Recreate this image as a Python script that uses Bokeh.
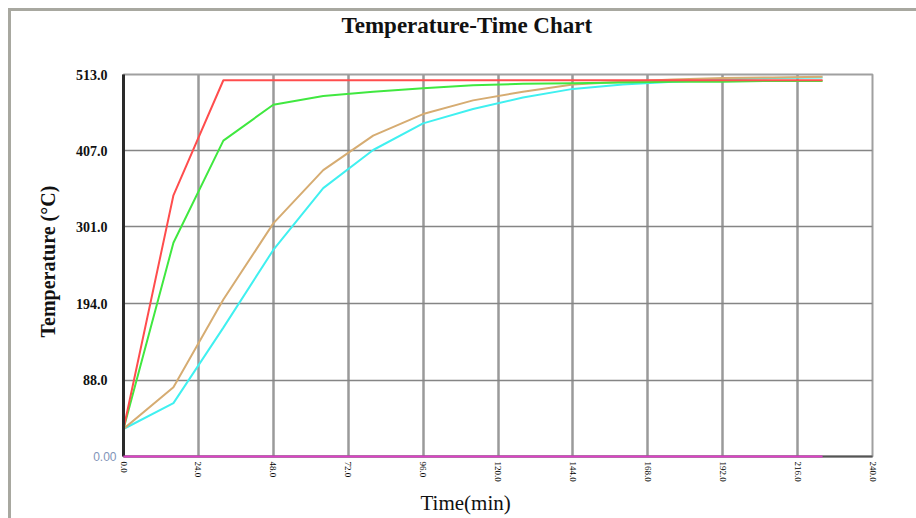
from bokeh.plotting import figure
from bokeh.models import Range1d, FixedTicker, PrintfTickFormatter, LinearAxis, Title
from bokeh.embed import file_html
from bokeh.resources import INLINE

# ---- data ----
time_min = [0, 16, 32, 48, 64, 80, 96, 112, 128, 144, 160, 176, 192, 208, 224]
red_temp = [20, 345, 505, 505, 505, 505, 505, 505, 505, 505, 505, 505, 505, 505, 505]
green_temp = [20, 279, 421, 471, 483, 489, 494, 498, 500, 501, 502, 503, 503, 504, 504]
tan_temp = [20, 78, 200, 306, 380, 428, 458, 477, 489, 499, 503, 506, 508, 509, 510]
cyan_temp = [20, 56, 161, 269, 355, 408, 445, 465, 481, 493, 499, 503, 506, 508, 509]

x_ticks = [0, 24, 48, 72, 96, 120, 144, 168, 192, 216, 240]
y_ticks = [88.0, 194.0, 301.0, 407.0, 513.0]
y_bottom = -18.25          # bottom of the value axis, labelled "0.00"
baseline_temp = [y_bottom] * len(time_min)

serif = "Liberation Serif"
frame_gray = "#a8a8a0"

p = figure(width=916, height=518, output_backend="svg", toolbar_location=None,
           x_range=Range1d(0, 240), y_range=Range1d(y_bottom, 513),
           min_border_left=123, min_border_right=44, min_border_top=74,
           min_border_bottom=61)
p.styles = {
    "background": (f"linear-gradient({frame_gray},{frame_gray}) 8px 8px / 3px 100% no-repeat, "
                   f"linear-gradient({frame_gray},{frame_gray}) 8px 8px / 100% 3px no-repeat, white"),
}

p.background_fill_color = "white"
p.border_fill_color = None
p.outline_line_color = "#a0a0a0"
p.outline_line_width = 2

# real title (outermost) and an invisible spacer between it and the plot area
p.title.text = "Temperature-Time Chart"
p.title.align = "left"
p.title.offset = 218
p.title.standoff = 0
p.title.text_font = serif
p.title.text_font_style = "bold"
p.title.text_font_size = "23px"
p.title.text_color = "#111111"
p.add_layout(Title(text=" ", text_font_size="1px", standoff=34), "above")

# axes
p.xaxis.ticker = FixedTicker(ticks=x_ticks)
p.xaxis.formatter = PrintfTickFormatter(format="%.1f")
p.xaxis.major_label_orientation = "vertical"
p.xaxis.major_label_text_font = serif
p.xaxis.major_label_text_font_size = "9px"
p.xaxis.major_label_text_color = "#000000"
p.xaxis.major_label_standoff = 5
p.xaxis.major_tick_out = 0
p.xaxis.major_tick_in = 0
p.xaxis.major_tick_line_color = None
p.xaxis.minor_tick_line_color = None
p.xaxis.axis_line_color = "#555555"
p.xaxis.axis_line_width = 2

p.yaxis.ticker = FixedTicker(ticks=y_ticks)
p.yaxis.formatter = PrintfTickFormatter(format="%.1f")
p.yaxis.major_label_text_font = serif
p.yaxis.major_label_text_font_style = "bold"
p.yaxis.major_label_text_font_size = "14px"
p.yaxis.major_label_text_color = "#111111"
p.yaxis.major_label_standoff = 10
p.yaxis.major_tick_line_color = None
p.yaxis.minor_tick_line_color = None
p.yaxis.axis_line_color = "#2a2a2a"
p.yaxis.axis_line_width = 3

# separate light label for the bottom of the value axis
zero_axis = LinearAxis(ticker=FixedTicker(ticks=[y_bottom]),
                       major_label_overrides={y_bottom: "0.00"},
                       axis_line_color=None, major_tick_line_color=None,
                       minor_tick_line_color=None,
                       major_label_standoff=-50,
                       major_label_text_font="Liberation Sans",
                       major_label_text_font_size="12px",
                       major_label_text_color="#7f94b8")
p.add_layout(zero_axis, "left")

p.add_layout(Title(text="Temperature (°C)", align="left", offset=119, standoff=28,
                   text_font=serif, text_font_style="bold", text_font_size="20px",
                   text_color="#111111"), "left")
p.add_layout(Title(text="Time(min)", align="left", offset=297, standoff=8,
                   text_font=serif, text_font_style="normal", text_font_size="21px",
                   text_color="#111111"), "below")

p.xgrid.grid_line_color = "#9a9a9a"
p.xgrid.grid_line_width = 2.5
p.ygrid.grid_line_color = "#858585"
p.ygrid.grid_line_width = 1.5

# series
base = p.line(time_min, baseline_temp, line_color="#e040c8", line_width=2)
base.level = "overlay"
p.line(time_min, cyan_temp, line_color="#40f0f0", line_width=2)
p.line(time_min, tan_temp, line_color="#d6ac72", line_width=2)
p.line(time_min, green_temp, line_color="#40e840", line_width=2)
p.line(time_min, red_temp, line_color="#ff4d4d", line_width=2)

open("out.html", "w").write(file_html(p, INLINE))
